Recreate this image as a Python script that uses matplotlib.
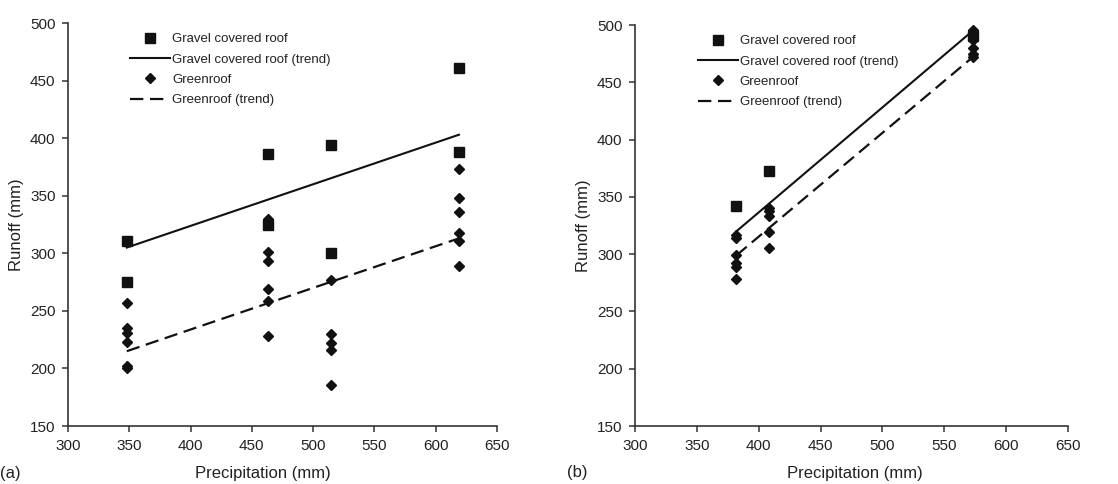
"""
Runoff vs precipitation for gravel covered roof and greenroof, panels (a) and (b).
"""

import matplotlib.pyplot as plt

plt.rcParams["font.family"] = ["Liberation Sans", "DejaVu Sans"]

# ---- panel (a) data ----
a_gravel_x = [348, 348, 463, 463, 515, 515, 619, 619]
a_gravel_y = [311, 275, 386, 325, 394, 300, 461, 388]
a_green_x = [348] * 6 + [463] * 6 + [515] * 5 + [619] * 6
a_green_y = [257, 235, 231, 223, 202, 200,
             330, 301, 293, 269, 259, 228,
             277, 230, 222, 216, 186,
             373, 348, 336, 318, 311, 289]
a_trend_x = [348, 619]
a_gravel_trend = [305, 403]
a_green_trend = [215, 313]

# ---- panel (b) data ----
b_gravel_x = [382, 408, 573]
b_gravel_y = [342, 373, 490]
b_green_x = [382] * 6 + [408] * 5 + [573] * 6
b_green_y = [317, 314, 299, 292, 289, 278,
             340, 338, 333, 319, 305,
             496, 493, 487, 480, 475, 472]
b_trend_x = [382, 573]
b_gravel_trend = [320, 495]
b_green_trend = [299, 472]

LABELS = ["Gravel covered roof", "Gravel covered roof (trend)",
          "Greenroof", "Greenroof (trend)"]
INK = "#111111"
TXT = "#222222"


def draw_panel(ax, gx, gy, wx, wy, tx, gtrend, wtrend, tag, xlab_x, leg_x):
    sq, = ax.plot(gx, gy, ls="none", marker="s", ms=6.5, color=INK)
    tr1, = ax.plot(tx, gtrend, color=INK, lw=1.5)
    dm, = ax.plot(wx, wy, ls="none", marker="D", ms=4.8, color=INK)
    tr2, = ax.plot(tx, wtrend, color=INK, lw=1.6, dashes=(6, 3))

    ax.set_xlim(300, 650)
    ax.set_ylim(150, 500)
    ax.set_xticks(range(300, 651, 50))
    ax.set_yticks(range(150, 501, 50))
    for s in ("top", "right"):
        ax.spines[s].set_visible(False)
    for s in ("left", "bottom"):
        ax.spines[s].set_color("#333333")
        ax.spines[s].set_linewidth(1.2)
    ax.tick_params(direction="out", length=4, width=1.1, color="#333333",
                   labelsize=11, labelcolor=TXT, pad=5)
    ax.set_xlabel("Precipitation (mm)", fontsize=12, color=TXT)
    ax.xaxis.set_label_coords(xlab_x, -0.119)
    ax.xaxis.label.set_va("center")
    ax.set_ylabel("Runoff (mm)", fontsize=12, color=TXT, labelpad=4)

    ax.legend([sq, tr1, dm, tr2], LABELS, loc="upper left",
              bbox_to_anchor=(leg_x, 1.005), frameon=False, fontsize=9.5,
              handlelength=3.0, handletextpad=0.15, labelspacing=0.62,
              labelcolor=TXT)
    ax.text(-0.158, -0.117, tag, transform=ax.transAxes, fontsize=12,
            color=TXT, ha="left", va="center")


fig = plt.figure(figsize=(11.18, 4.84), dpi=100)
ax_a = fig.add_axes([0.0608, 0.1198, 0.3837, 0.8326])
ax_b = fig.add_axes([0.568, 0.1198, 0.3873, 0.8285])

draw_panel(ax_a, a_gravel_x, a_gravel_y, a_green_x, a_green_y,
           a_trend_x, a_gravel_trend, a_green_trend, "(a)", 0.455, 0.118)
draw_panel(ax_b, b_gravel_x, b_gravel_y, b_green_x, b_green_y,
           b_trend_x, b_gravel_trend, b_green_trend, "(b)", 0.508, 0.118)

fig.savefig("out.png", dpi=100)
